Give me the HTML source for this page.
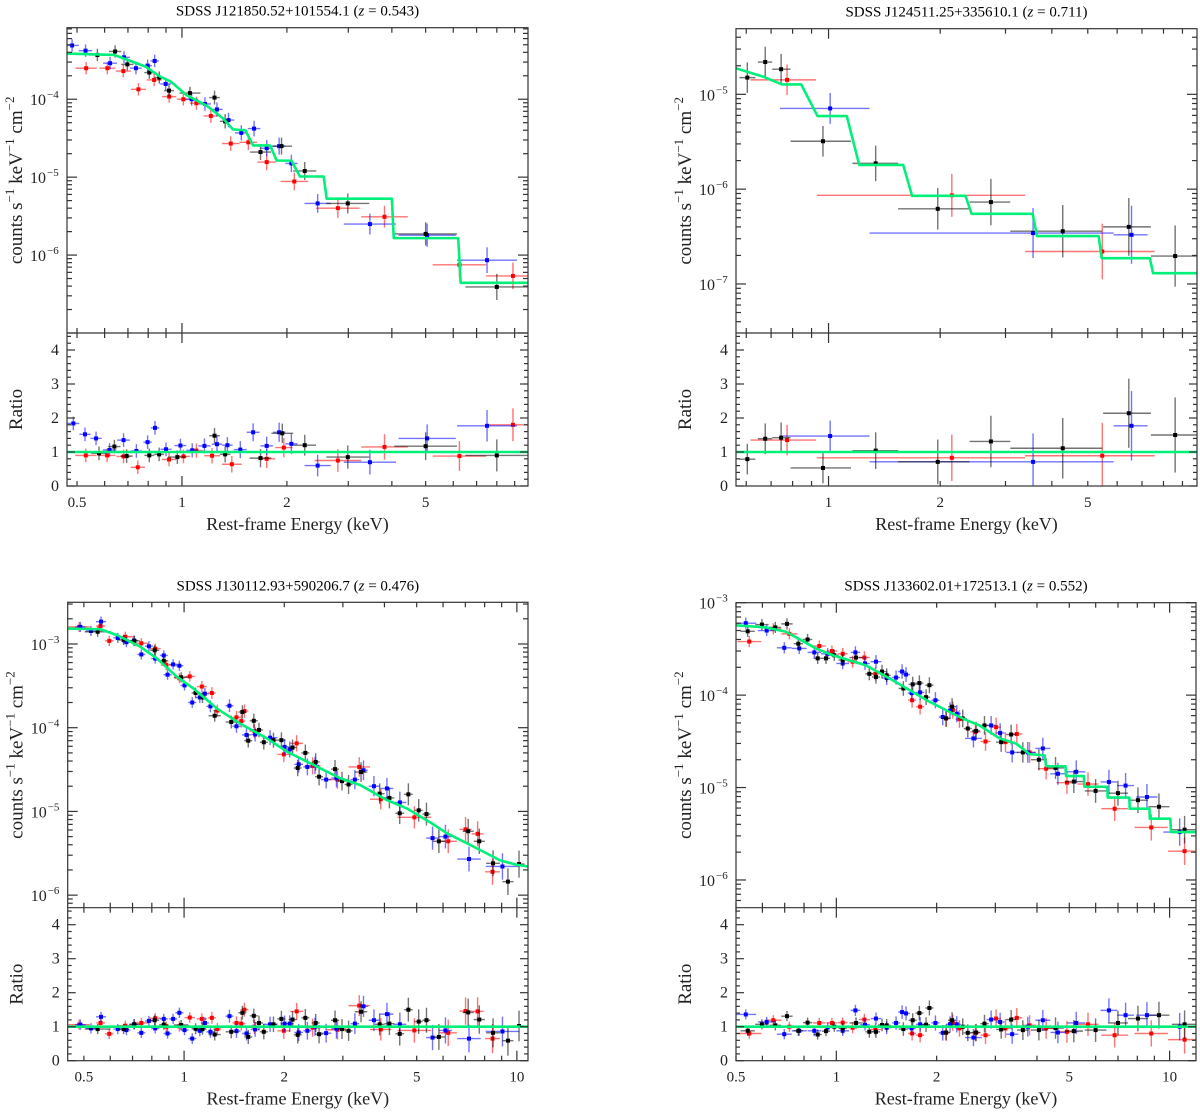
<!DOCTYPE html>
<html><head><meta charset="utf-8"><title>X-ray spectra</title>
<style>
html,body{margin:0;padding:0;background:#fff;}
svg{display:block;font-family:"Liberation Serif","DejaVu Serif",serif;}
</style></head>
<body>
<svg id="chart" xmlns="http://www.w3.org/2000/svg" width="1200" height="1112" viewBox="0 0 1200 1112"></svg>
<script>
// ---------- Panel 1 data: SDSS J121850.52+101554.1 ----------
const p1BlackE = [0.572,0.643,0.697,0.806,0.861,0.918,1.054,1.24,1.33,1.68,1.93,2.25,2.99,5.0,8.0];
const p1BlackV = [3.7e-4,4.1e-4,2.8e-4,2.2e-4,1.9e-4,1.29e-4,1.2e-4,1.05e-4,5.2e-5,2.1e-5,2.5e-5,1.2e-5,4.6e-6,1.87e-6,3.9e-7];
const p1RedE = [0.531,0.611,0.679,0.75,0.832,0.919,1.009,1.10,1.21,1.38,1.55,1.75,2.1,2.8,3.81,6.25,8.9];
const p1RedV = [2.5e-4,2.5e-4,2.3e-4,1.34e-4,1.77e-4,1.08e-4,1.0e-4,8.9e-5,6.1e-5,2.7e-5,2.8e-5,1.56e-5,8.8e-6,4.0e-6,3.1e-6,7.5e-7,5.4e-7];
const p1BlueE = [0.484,0.529,0.622,0.682,0.738,0.797,0.835,0.898,1.066,1.164,1.26,1.36,1.48,1.61,1.75,1.90,2.06,2.45,3.46,5.05,7.5];
const p1BlueV = [4.9e-4,4.2e-4,2.9e-4,3.45e-4,2.5e-4,2.7e-4,3.1e-4,1.57e-4,1.0e-4,8.7e-5,7.4e-5,5.4e-5,3.7e-5,4.2e-5,2.35e-5,2.5e-5,1.5e-5,4.6e-6,2.5e-6,1.8e-6,8.6e-7];
const p1RBlackE = [0.578,0.64,0.694,0.806,0.86,0.97,1.24,1.33,1.68,1.94,2.25,2.99,5.0,8.0];
const p1RBlackR = [0.96,1.16,0.88,0.9,0.93,0.85,1.48,0.93,0.82,1.55,1.2,0.85,1.17,0.9];
const p1RRedE = [0.53,0.61,0.68,0.747,0.918,1.01,1.1,1.22,1.39,1.75,1.96,2.8,3.81,6.25,8.9];
const p1RRedR = [0.9,0.9,0.87,0.55,0.78,0.87,1.04,0.89,0.64,0.8,1.13,0.75,1.15,0.88,1.8];
const p1RBlueE = [0.488,0.527,0.567,0.62,0.68,0.74,0.797,0.837,0.9,0.99,1.07,1.16,1.26,1.35,1.47,1.60,1.75,1.9,2.06,2.45,3.46,5.05,7.5];
const p1RBlueR = [1.84,1.52,1.40,1.06,1.35,1.03,1.29,1.71,1.08,1.19,1.05,1.18,1.23,1.2,1.07,1.58,1.18,1.58,1.24,0.6,0.7,1.4,1.77];
const p1ModelE = [0.468,0.64,0.79,0.866,0.93,1.03,1.18,1.31,1.40,1.52,1.6,1.79,1.87,2.06,2.18,2.55,2.6,4.0,4.05,6.2,6.3,9.83];
const p1ModelV = [3.85e-4,3.7e-4,2.6e-4,1.95e-4,1.68e-4,1.13e-4,8.2e-5,5.7e-5,4.1e-5,4.0e-5,2.55e-5,2.55e-5,1.63e-5,1.63e-5,1.02e-5,1.02e-5,5.3e-6,5.3e-6,1.65e-6,1.65e-6,4.4e-7,4.4e-7];

// ---------- Panel 2 data: SDSS J124511.25+335610.1 ----------
const p2BlackE = [0.604,0.675,0.745,0.966,1.34,1.97,2.74,4.28,6.45,8.6];
const p2BlackLo = [0.575,0.645,0.705,0.79,1.16,1.54,2.4,3.09,5.5,7.4];
const p2BlackHi = [0.635,0.705,0.79,1.15,1.54,2.4,3.09,5.46,7.4,9.85];
const p2BlackV = [1.5e-5,2.19e-5,1.84e-5,3.2e-6,1.87e-6,6.2e-7,7.3e-7,3.6e-7,4.0e-7,1.97e-7];
const p2BlackR = [0.79,1.39,1.42,0.53,1.04,0.71,1.31,1.11,2.14,1.5];
const p2RedE = [0.773,2.15,5.47];
const p2RedLo = [0.616,0.93,3.39];
const p2RedHi = [0.925,3.39,7.57];
const p2RedV = [1.42e-5,8.6e-7,2.2e-7];
const p2RedR = [1.35,0.83,0.89];
const p2BlueE = [1.01,3.56,6.56];
const p2BlueLo = [0.74,1.29,5.87];
const p2BlueHi = [1.29,5.87,7.25];
const p2BlueV = [7.1e-6,3.44e-7,3.3e-7];
const p2BlueR = [1.47,0.71,1.77];
const p2ModelE = [0.563,0.668,0.749,0.844,0.934,1.12,1.21,1.59,1.68,2.34,2.43,3.55,3.65,5.35,5.45,7.35,7.5,9.85];
const p2ModelV = [1.88e-5,1.53e-5,1.27e-5,1.27e-5,5.9e-6,5.9e-6,1.8e-6,1.8e-6,8.5e-7,8.5e-7,5.5e-7,5.5e-7,3.2e-7,3.2e-7,1.87e-7,1.87e-7,1.3e-7,1.3e-7];

// ---------- Panel 3 data: SDSS J130112.93+590206.7 ----------
const p3RedE = [0.484,0.561,0.596,0.666,0.744,0.819,0.884,0.968,1.040,1.131,1.212,1.259,1.437,1.486,1.518,1.627,1.994,2.179,2.433,2.89,3.36,3.90,4.92,6.22,7.01,7.62,8.45];
const p3RedV = [1.6e-3,1.64e-3,1.09e-3,1.22e-3,1.02e-3,8.8e-4,5.6e-4,3.9e-4,4.1e-4,3.1e-4,2.6e-4,1.6e-4,1.33e-4,1.2e-4,1.58e-4,9.1e-5,4.8e-5,6.5e-5,3.5e-5,2.4e-5,3.4e-5,1.4e-5,8.5e-6,4.4e-6,6.1e-6,5.4e-6,1.9e-6];
const p3RedR = [1.06,1.11,0.79,1.03,1.11,1.25,1.0,1.01,1.27,1.23,1.26,0.93,1.11,1.09,1.5,1.0,0.88,1.45,0.97,0.91,1.62,0.92,0.89,0.82,1.46,1.45,0.65];
const p3BlackE = [0.550,0.658,0.709,0.816,0.869,0.980,1.083,1.136,1.236,1.386,1.497,1.559,1.620,1.679,1.736,1.856,1.961,2.118,2.195,2.314,2.486,2.545,2.842,2.982,3.121,3.402,3.870,4.140,4.446,4.72,5.07,5.35,5.83,7.14,7.71,8.48,9.40,10.15];
const p3BlackV = [1.4e-3,1.12e-3,1.09e-3,8.4e-4,6.3e-4,4.0e-4,2.6e-4,2.3e-4,1.39e-4,1.17e-4,1.54e-4,7.0e-5,1.21e-4,9.4e-5,6.7e-5,7.1e-5,7.1e-5,5.8e-5,3.3e-5,5.0e-5,3.9e-5,2.6e-5,3.2e-5,2.3e-5,2.1e-5,2.95e-5,1.63e-5,1.45e-5,9.5e-6,1.6e-5,1.03e-5,9.3e-6,4.4e-6,5.8e-6,4.4e-6,2.4e-6,1.45e-6,2.35e-6];
const p3BlackR = [0.93,0.93,1.07,1.19,1.06,1.05,0.94,0.93,0.77,0.85,1.41,0.7,1.32,1.11,0.85,1.07,1.23,1.21,0.76,1.26,1.11,0.78,1.19,0.93,0.88,1.44,1.07,1.09,0.79,1.5,1.15,1.19,0.7,1.42,1.21,0.82,0.59,1.02];
const p3BlueE = [0.488,0.525,0.563,0.632,0.671,0.707,0.744,0.784,0.819,0.869,0.892,0.927,0.968,1.003,1.058,1.115,1.155,1.2,1.369,1.437,1.54,1.635,1.813,2.004,2.077,2.21,2.347,2.474,2.672,2.87,3.26,3.46,3.72,4.07,4.45,5.58,6.10,7.18,9.05];
const p3BlueV = [1.6e-3,1.43e-3,1.85e-3,1.18e-3,1.05e-3,1.1e-3,7.5e-4,9.4e-4,6.7e-4,7.3e-4,4.3e-4,5.7e-4,5.5e-4,3.2e-4,2.0e-4,2.3e-4,2.55e-4,1.8e-4,1.83e-4,1.04e-4,8.2e-5,8.3e-5,7.6e-5,5.9e-5,5.5e-5,3.65e-5,3.4e-5,3.55e-5,2.4e-5,2.5e-5,2.4e-5,3.1e-5,2.0e-5,1.88e-5,1.28e-5,4.8e-6,5.0e-6,2.7e-6,2.2e-6];
const p3BlueR = [1.06,0.95,1.29,0.93,0.9,1.07,0.82,1.17,0.95,1.23,0.8,1.23,1.41,0.9,0.65,0.88,1.11,0.85,1.31,0.87,0.8,0.92,1.07,1.09,1.09,0.83,0.88,1.0,0.81,0.94,1.09,1.6,1.19,1.37,1.07,0.68,0.89,0.65,0.86];
const p3ModelE = [0.447,0.56,0.628,0.738,0.828,0.951,1.066,1.254,1.473,1.771,2.034,2.94,3.38,4.06,4.66,5.23,5.55,6.16,6.74,7.94,8.9,10.0,10.8];
const p3ModelV = [1.53e-3,1.5e-3,1.28e-3,9.3e-4,6.75e-4,4.07e-4,2.95e-4,1.7e-4,1.12e-4,7.5e-5,5.2e-5,2.5e-5,2.07e-5,1.37e-5,1.09e-5,8.3e-6,7.2e-6,5.5e-6,4.6e-6,3.3e-6,2.6e-6,2.3e-6,2.2e-6];

// ---------- Panel 4 data: SDSS J133602.01+172513.1 ----------
const p4RedE = [0.548,0.647,0.723,0.889,0.970,1.045,1.119,1.214,1.31,1.688,1.784,2.135,2.236,2.341,2.615,2.803,3.016,3.218,3.479,3.80,4.26,4.92,5.69,6.84,8.81,11.09];
const p4RedV = [3.8e-4,5.2e-4,4.6e-4,3.4e-4,3.0e-4,2.8e-4,2.3e-4,2.55e-4,1.7e-4,8.8e-5,7.5e-5,5.6e-5,6.9e-5,5.5e-5,4.0e-5,3.15e-5,4.5e-5,3.1e-5,3.8e-5,2.4e-5,1.6e-5,1.13e-5,1.09e-5,5.9e-6,3.7e-6,2.05e-6];
const p4RedR = [0.8,1.19,1.0,1.11,1.11,1.12,0.97,1.21,0.92,0.8,0.75,0.82,1.12,0.95,0.82,0.75,1.24,0.95,1.26,1.04,0.95,0.85,1.07,0.75,0.8,0.62];
const p4BlackE = [0.542,0.598,0.656,0.711,0.769,0.820,0.879,0.931,0.986,1.045,1.146,1.256,1.315,1.371,1.416,1.589,1.695,1.775,1.859,1.902,2.135,2.225,2.395,2.48,2.627,2.783,3.123,3.346,3.628,4.053,4.547,5.16,5.997,6.998,8.035,9.29,11.09];
const p4BlackV = [4.9e-4,5.8e-4,5.4e-4,5.9e-4,3.6e-4,4.0e-4,2.5e-4,2.5e-4,2.7e-4,2.4e-4,2.55e-4,1.7e-4,1.57e-4,1.8e-4,1.64e-4,1.18e-4,1.31e-4,1.35e-4,9.5e-5,1.28e-4,5.6e-5,7.5e-5,5.6e-5,4.35e-5,4.1e-5,4.7e-5,3.1e-5,3.75e-5,2.4e-5,2.0e-5,1.63e-5,1.16e-5,9.2e-6,8.7e-6,7.3e-6,6.2e-6,3.5e-6];
const p4BlackR = [0.88,1.07,1.04,1.31,0.88,1.12,0.77,0.87,1.0,0.95,1.11,0.85,0.85,1.05,1.04,0.93,1.19,1.4,1.06,1.55,0.83,1.19,1.0,0.82,0.83,1.09,0.92,1.21,0.9,0.9,0.96,0.87,0.9,1.11,1.24,1.34,1.07];
const p4BlueE = [0.535,0.618,0.698,0.774,0.859,0.942,1.045,1.141,1.219,1.315,1.416,1.511,1.575,1.619,1.683,1.784,1.983,2.086,2.194,2.298,2.579,2.914,3.101,3.37,3.754,4.165,4.622,5.246,6.575,7.378,8.55,10.72];
const p4BlueV = [6.0e-4,5.0e-4,3.25e-4,3.2e-4,2.9e-4,2.8e-4,2.2e-4,2.9e-4,2.2e-4,2.3e-4,1.53e-4,1.55e-4,1.8e-4,1.67e-4,1.05e-4,1.07e-4,8.8e-5,5.8e-5,6.8e-5,6.3e-5,3.4e-5,4.7e-5,3.9e-5,2.4e-5,2.4e-5,2.65e-5,1.41e-5,1.48e-5,1.15e-5,1.05e-5,7.9e-6,3.3e-6];
const p4BlueR = [1.36,1.14,0.78,0.88,0.88,0.98,0.88,1.48,1.06,1.24,0.97,1.11,1.43,1.39,0.95,1.07,1.11,0.82,1.07,1.07,0.68,1.21,1.14,0.78,1.0,1.19,0.83,1.11,1.48,1.34,1.34,1.0];
const p4ModelE = [0.5,0.615,0.706,0.869,0.975,1.228,1.476,1.9,2.39,2.69,3.09,3.46,3.80,4.22,4.26,4.87,4.89,5.53,5.55,6.5,6.52,7.57,7.59,8.7,8.72,10.05,10.1,12.0];
const p4ModelV = [5.7e-4,5.4e-4,4.85e-4,3.2e-4,2.7e-4,2.1e-4,1.45e-4,8.5e-5,5.6e-5,4.7e-5,3.4e-5,3.0e-5,2.3e-5,2.23e-5,1.7e-5,1.7e-5,1.33e-5,1.33e-5,1.02e-5,1.02e-5,7.8e-6,7.8e-6,5.9e-6,5.9e-6,4.6e-6,4.6e-6,3.3e-6,3.3e-6];

const p1XLabels = [0.5,1,2,5];
const p2XLabels = [1,2,5];
const p3XLabels = [0.5,1,2,5,10];
const p4XLabels = [0.5,1,2,5,10];
const ratioTickLabels = [0,1,2,3,4];

const NS = "http://www.w3.org/2000/svg";
const svg = document.getElementById("chart");
function mk(tag, attrs, parent){
  const el = document.createElementNS(NS, tag);
  for (const k in attrs) el.setAttribute(k, attrs[k]);
  (parent || svg).appendChild(el);
  return el;
}
const COL = {black:"#000000", red:"#ff0000", blue:"#0000ff"};
const GREEN = "#00f07a";

function drawPanel(cfg){
  const g = mk("g", {});
  
  
  const lx0 = Math.log10(cfg.xmin), lx1 = Math.log10(cfg.xmax);
  const xs = E => cfg.L + (Math.log10(E) - lx0) / (lx1 - lx0) * (cfg.R - cfg.L);
  const ys = v => cfg.T + (cfg.ly0 - Math.log10(v)) / (cfg.ly0 - cfg.ly1) * (cfg.D - cfg.T);
  const yr = r => cfg.B - r / 4.5 * (cfg.B - cfg.D);
  const errOf = E => cfg.ea + cfg.eb * Math.max(0, Math.log10(E));

  const defs = mk("defs", {}, g);
  const c1 = mk("clipPath", {id: cfg.id + "-c1"}, defs);
  mk("rect", {x: cfg.L, y: cfg.T, width: cfg.R - cfg.L, height: cfg.D - cfg.T}, c1);
  const c2 = mk("clipPath", {id: cfg.id + "-c2"}, defs);
  mk("rect", {x: cfg.L, y: cfg.D, width: cfg.R - cfg.L, height: cfg.B - cfg.D}, c2);

  const cx = (cfg.L + cfg.R) / 2;
  const title = mk("text", {x: cx, y: cfg.T - 12, "text-anchor": "middle", "font-size": 15}, g);
  
  
  title.appendChild(document.createTextNode(cfg.title + " ("));
  const zi = mk("tspan", {"font-style": "italic"}, title); zi.textContent = "z";
  title.appendChild(document.createTextNode(" = " + cfg.z + ")"));

  const specG = mk("g", {"clip-path": "url(#" + cfg.id + "-c1)"}, g);
  
  
  const ratG = mk("g", {"clip-path": "url(#" + cfg.id + "-c2)"}, g);
  
  

  cfg.series.forEach(s => {
    const sg = mk("g", {}, specG);
    
    
    const rg = mk("g", {}, ratG);
    
    
    const col = COL[s.color];
    const halfW = (arr, i) => {
      const l = Math.log10(arr[i]);
      let d = 1;
      if (i > 0) d = Math.min(d, l - Math.log10(arr[i-1]));
      if (i < arr.length - 1) d = Math.min(d, Math.log10(arr[i+1]) - l);
      return Math.max(0.012, Math.min(cfg.maxdx, d / 2));
    };
    const bar = (parent, x1, y1, x2, y2) => mk("line", {x1:x1, y1:y1, x2:x2, y2:y2, stroke: col, "stroke-width": 1.4, "stroke-opacity": 0.55}, parent);
    s.E.forEach((E, i) => {
      const er = errOf(E);
      let xa, xb;
      if (s.lo) { xa = xs(s.lo[i]); xb = xs(s.hi[i]); }
      else { const h = halfW(s.E, i); xa = xs(E / Math.pow(10, h)); xb = xs(E * Math.pow(10, h)); }
      const v = s.V[i];
      const x = xs(E), y = ys(v);
      const dd = Math.log10(1 + er);
      bar(sg, xa, y, xb, y);
      bar(sg, x, ys(v * Math.pow(10, dd)), x, ys(v / Math.pow(10, dd)));
      const pt = mk("rect", {x: x - 2, y: y - 2, width: 4, height: 4, fill: col}, sg);
      
      
    });
    const RE = s.RE || s.E;
    RE.forEach((E, i) => {
      const er = errOf(E);
      let xa, xb;
      if (s.lo) { xa = xs(s.lo[i]); xb = xs(s.hi[i]); }
      else { const h = halfW(RE, i); xa = xs(E / Math.pow(10, h)); xb = xs(E * Math.pow(10, h)); }
      const r = s.R[i];
      const x = xs(E), y = yr(r);
      bar(rg, xa, y, xb, y);
      bar(rg, x, yr(r + er), x, yr(Math.max(0, r - er)));
      const pt = mk("rect", {x: x - 2, y: y - 2, width: 4, height: 4, fill: col}, rg);
      
      
    });
  });

  const d = cfg.mE.map((E, i) => (i ? "L" : "M") + xs(E).toFixed(2) + "," + ys(cfg.mV[i]).toFixed(2)).join(" ");
  const model = mk("path", {d: d, fill: "none", stroke: GREEN, "stroke-width": 2.6, "stroke-linejoin": "round"}, specG);
  
  
  const unity = mk("line", {x1: cfg.L, x2: cfg.R, y1: yr(1), y2: yr(1), stroke: GREEN, "stroke-width": 2.6}, ratG);
  
  

  const axG = mk("g", {stroke: "#333", "stroke-width": 1.2, fill: "none"}, g);
  
  
  mk("rect", {x: cfg.L, y: cfg.T, width: cfg.R - cfg.L, height: cfg.B - cfg.T}, axG);
  mk("line", {x1: cfg.L, x2: cfg.R, y1: cfg.D, y2: cfg.D}, axG);

  for (let dec = -1; dec <= 1; dec++) {
    for (let k = 1; k <= 9; k++) {
      const E = k * Math.pow(10, dec);
      if (E < cfg.xmin || E > cfg.xmax) continue;
      const x = xs(E), len = k === 1 ? 10 : 5;
      mk("line", {x1: x, x2: x, y1: cfg.T, y2: cfg.T + len}, axG);
      mk("line", {x1: x, x2: x, y1: cfg.D - len, y2: cfg.D + len}, axG);
      mk("line", {x1: x, x2: x, y1: cfg.B, y2: cfg.B - len}, axG);
    }
  }
  cfg.xLabels.forEach(E => {
    const t = mk("text", {x: xs(E), y: cfg.B + 21, "text-anchor": "middle", "font-size": 15, fill: "#222"}, g);
    
    
    t.textContent = String(E);
  });
  for (let dec = -8; dec <= -2; dec++) {
    for (let k = 1; k <= 9; k++) {
      const v = k * Math.pow(10, dec);
      const lv = Math.log10(v);
      if (lv > cfg.ly0 + 1e-6 || lv < cfg.ly1) continue;
      const y = ys(v), len = k === 1 ? 10 : 5;
      mk("line", {x1: cfg.L, x2: cfg.L + len, y1: y, y2: y}, axG);
      mk("line", {x1: cfg.R, x2: cfg.R - len, y1: y, y2: y}, axG);
      if (k === 1 && y < cfg.D - 4) {
        const t = mk("text", {x: cfg.L - 21, y: y + 6, "text-anchor": "end", "font-size": 16, fill: "#222"}, g);
        
        
        t.appendChild(document.createTextNode("10"));
        const sup = mk("tspan", {x: cfg.L - 20, dy: -7, "font-size": 11, "text-anchor": "start"}, t);
        sup.textContent = "\u2212" + (-dec);
      }
    }
  }
  for (let i = 0; i <= 22; i++) {
    const r = i * 0.2, y = yr(r), major = i % 5 === 0, len = major ? 8 : 4;
    mk("line", {x1: cfg.L, x2: cfg.L + len, y1: y, y2: y}, axG);
    mk("line", {x1: cfg.R, x2: cfg.R - len, y1: y, y2: y}, axG);
  }
  ratioTickLabels.forEach(r => {
    const t = mk("text", {x: cfg.L - 8, y: yr(r) + 5, "text-anchor": "end", "font-size": 16, fill: "#222"}, g);
    
    
    t.textContent = String(r);
  });

  const xt = mk("text", {x: cx, y: cfg.B + 44, "text-anchor": "middle", "font-size": 18, fill: "#222"}, g);
  
  
  xt.textContent = "Rest-frame Energy (keV)";
  const yc = (cfg.T + cfg.D) / 2, yx = cfg.L - 45;
  const yt = mk("text", {x: yx, y: yc, "text-anchor": "middle", "font-size": 19, fill: "#222", transform: "rotate(-90 " + yx + " " + yc + ")"}, g);
  
  
  const parts = [["counts s", "\u22121"], ["\u00a0keV", "\u22121"], ["\u00a0cm", "\u22122"]];
  parts.forEach((p, i) => {
    const a = mk("tspan", i ? {dy: 8} : {}, yt); a.textContent = p[0];
    const b = mk("tspan", {dy: -8, "font-size": 13}, yt); b.textContent = p[1];
  });
  const rc = (cfg.D + cfg.B) / 2;
  const rt = mk("text", {x: yx, y: rc, "text-anchor": "middle", "font-size": 19, fill: "#222", transform: "rotate(-90 " + yx + " " + rc + ")"}, g);
  
  
  rt.textContent = "Ratio";
}

drawPanel({id: "panel-j1218", title: "SDSS J121850.52+101554.1", z: "0.543",
  L: 67, R: 528, T: 27.7, D: 333, B: 486, xmin: 0.468, xmax: 9.83, ly0: -3.082, ly1: -7.0,
  ea: 0.2, eb: 0.3, maxdx: 0.09, xLabels: p1XLabels, mE: p1ModelE, mV: p1ModelV,
  series: [
    {color: "red", E: p1RedE, V: p1RedV, RE: p1RRedE, R: p1RRedR},
    {color: "blue", E: p1BlueE, V: p1BlueV, RE: p1RBlueE, R: p1RBlueR},
    {color: "black", E: p1BlackE, V: p1BlackV, RE: p1RBlackE, R: p1RBlackR}]});
drawPanel({id: "panel-j1245", title: "SDSS J124511.25+335610.1", z: "0.711",
  L: 736, R: 1197, T: 28.7, D: 333, B: 486, xmin: 0.563, xmax: 9.85, ly0: -4.308, ly1: -7.517,
  ea: 0.45, eb: 0.7, maxdx: 0.2, xLabels: p2XLabels, mE: p2ModelE, mV: p2ModelV,
  series: [
    {color: "red", E: p2RedE, V: p2RedV, R: p2RedR, lo: p2RedLo, hi: p2RedHi},
    {color: "blue", E: p2BlueE, V: p2BlueV, R: p2BlueR, lo: p2BlueLo, hi: p2BlueHi},
    {color: "black", E: p2BlackE, V: p2BlackV, R: p2BlackR, lo: p2BlackLo, hi: p2BlackHi}]});
drawPanel({id: "panel-j1301", title: "SDSS J130112.93+590206.7", z: "0.476",
  L: 67.7, R: 528, T: 602.3, D: 907.7, B: 1060.7, xmin: 0.447, xmax: 10.8, ly0: -2.502, ly1: -6.15,
  ea: 0.15, eb: 0.3, maxdx: 0.06, xLabels: p3XLabels, mE: p3ModelE, mV: p3ModelV,
  series: [
    {color: "red", E: p3RedE, V: p3RedV, R: p3RedR},
    {color: "blue", E: p3BlueE, V: p3BlueV, R: p3BlueR},
    {color: "black", E: p3BlackE, V: p3BlackV, R: p3BlackR}]});
drawPanel({id: "panel-j1336", title: "SDSS J133602.01+172513.1", z: "0.552",
  L: 736, R: 1196, T: 602.7, D: 907.7, B: 1060.7, xmin: 0.5, xmax: 12.0, ly0: -3.0, ly1: -6.30,
  ea: 0.15, eb: 0.25, maxdx: 0.06, xLabels: p4XLabels, mE: p4ModelE, mV: p4ModelV,
  series: [
    {color: "red", E: p4RedE, V: p4RedV, R: p4RedR},
    {color: "blue", E: p4BlueE, V: p4BlueV, R: p4BlueR},
    {color: "black", E: p4BlackE, V: p4BlackV, R: p4BlackR}]});
</script>
</body></html>
